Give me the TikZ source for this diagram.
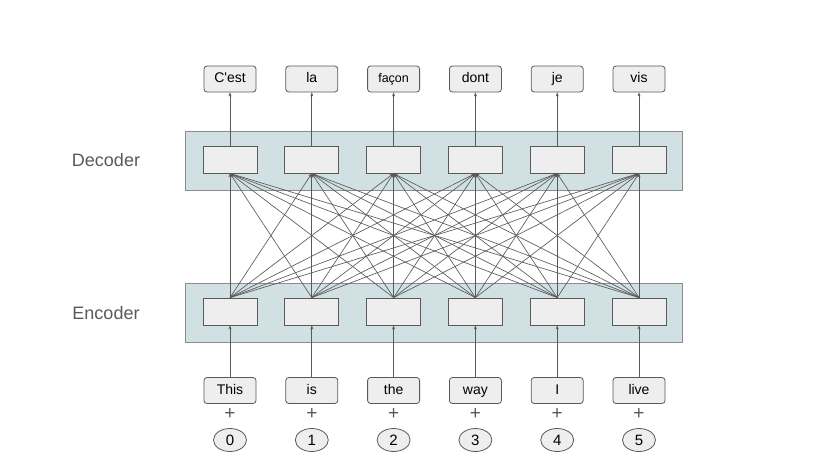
\documentclass[tikz,border=0pt]{standalone}
\usepackage{fontspec}
\setmainfont{Liberation Sans}[Ligatures=TeXOff]
\usetikzlibrary{arrows.meta,shapes.geometric}
\definecolor{band}{HTML}{D0E0E3}
\definecolor{boxfill}{HTML}{EEEEEE}
\definecolor{edge}{HTML}{595959}
\definecolor{lbl}{HTML}{595959}
\tikzset{
  bandbox/.style={draw=edge!70, fill=band, line width=0.9pt, minimum width=497pt, minimum height=59pt, inner sep=0pt},
  cell/.style={draw=edge, fill=boxfill, line width=0.8pt, minimum width=54pt, minimum height=27pt, inner sep=0pt},
  word/.style={draw=edge, fill=boxfill, line width=0.8pt, rounded corners=3pt, minimum width=52pt, minimum height=26pt, inner sep=0pt, text height=10pt, text depth=3pt, font=\fontsize{14}{14}\selectfont},
  posnode/.style={draw=edge, fill=boxfill, line width=0.8pt, ellipse, minimum width=33pt, minimum height=23pt, inner sep=0pt, font=\fontsize{15}{15}\selectfont},
  plussign/.style={text=edge, font=\fontsize{19}{19}\selectfont, inner sep=0pt},
  side/.style={text=lbl, font=\fontsize{18}{18}\selectfont},
  conn/.style={draw=edge, line width=0.65pt, -{Stealth[length=4pt,width=3pt]}},
}
\begin{document}
\begin{tikzpicture}[x=1pt,y=-1pt]
\useasboundingbox (0,0) rectangle (830,467);
\node[bandbox] (dec) at (433.5,160.5) {};
\node[bandbox] (enc) at (433.5,312.5) {};
\node[side] (declbl) at (106,160) {Decoder};
\node[side] (enclbl) at (106,313) {Encoder};
\foreach \i/\o/\w in {0/C'est/This,1/la/is,2/{\fontsize{12.5}{12.5}\selectfont façon}/the,3/dont/way,4/je/I,5/vis/live}{
  \pgfmathsetmacro\cx{230+81.8*\i}
  \node[cell] (d\i) at (\cx,159.5) {};
  \node[cell] (e\i) at (\cx,311.5) {};
  \node[word] (o\i) at (\cx,79) {\o};
  \node[word] (w\i) at (\cx,390.5) {\w};
  \node[plussign] (p\i) at (\cx,414) {+};
  \node[posnode] (n\i) at (\cx,440) {\i};
  \draw[conn] (d\i.north) -- (o\i.south);
  \draw[conn] (w\i.north) -- (e\i.south);
}
\foreach \i in {0,...,5}{
  \foreach \j in {0,...,5}{
    \draw[conn] (e\i.north) -- (d\j.south);
  }
}
\end{tikzpicture}
\end{document}
